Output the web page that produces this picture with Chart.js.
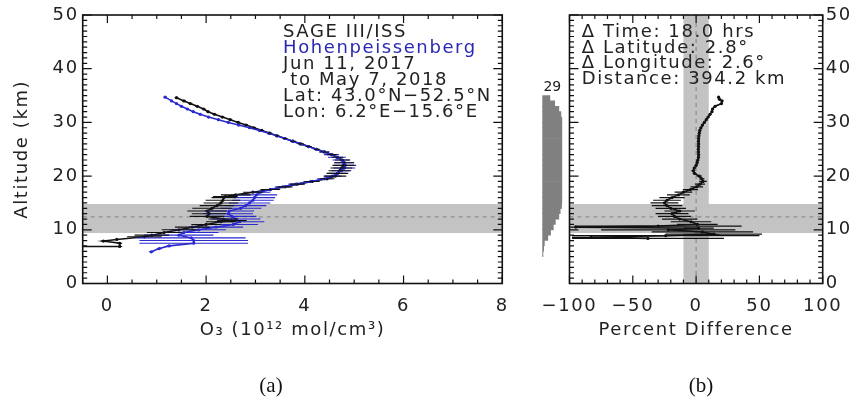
<!DOCTYPE html>
<html><head><meta charset="utf-8">
<script src="https://cdn.jsdelivr.net/npm/chart.js@4.4.1/dist/chart.umd.min.js"></script>
<style>
html,body{margin:0;padding:0;background:#fff;}
#wrap{position:relative;width:856px;height:401px;overflow:hidden;background:#fff;}
canvas{position:absolute;top:0;}
.cap{position:absolute;width:100px;text-align:center;font-family:"Liberation Serif",serif;font-size:21px;line-height:24px;color:#111;}
</style></head>
<body><div id="wrap">
<canvas id="cL" width="520" height="401" style="left:0"></canvas>
<canvas id="cH" width="40" height="401" style="left:530px"></canvas>
<canvas id="cR" width="336" height="401" style="left:520px"></canvas>
<div class="cap" style="left:221px;top:373px">(a)</div>
<div class="cap" style="left:651px;top:373px">(b)</div>
</div>
<script>
// ---------- data ----------
const sageAlt = [34.6,34.0,33.5,33.0,32.5,32.0,31.5,31.0,30.5,30.0,29.5,29.0,28.5,28.0,27.5,27.0,26.5,26.0,25.5,25.0,24.5,24.0,23.5,23.0,22.5,22.0,21.5,21.0,20.5,20.0,19.5,19.0,18.5,18.0,17.5,17.0,16.5,16.2,16.0,15.5,15.0,14.5,14.0,13.5,13.0,12.5,12.0,11.7,11.5,11.0,10.5,10.0,9.5,9.0,8.7,8.2,7.9,7.5,6.9,6.9];
const sageO3  = [1.40,1.55,1.68,1.82,1.95,2.04,2.17,2.33,2.49,2.65,2.81,2.97,3.13,3.29,3.44,3.60,3.76,3.92,4.08,4.24,4.40,4.55,4.66,4.76,4.80,4.78,4.74,4.70,4.66,4.62,4.45,4.15,3.85,3.60,3.30,2.95,2.60,2.39,2.36,2.34,2.30,2.22,2.12,2.02,2.06,2.02,2.35,2.52,2.30,2.00,1.72,1.45,1.15,0.90,0.75,0.19,-0.08,0.25,0.25,-0.60];
const sageErr = [0.04,0.04,0.04,0.04,0.04,0.04,0.04,0.04,0.04,0.04,0.04,0.04,0.04,0.04,0.04,0.04,0.06,0.06,0.06,0.06,0.10,0.10,0.12,0.15,0.20,0.22,0.22,0.22,0.22,0.22,0.15,0.15,0.15,0.15,0.20,0.20,0.30,0.25,0.25,0.35,0.35,0.35,0.40,0.40,0.35,0.35,0.30,0.30,0.30,0.30,0.35,0.35,0.35,0.35,0.35,0.05,0.05,0.05,0.05,0.05];

const sondeAlt = [34.7,34.0,33.5,33.0,32.5,32.0,31.5,31.0,30.5,30.0,29.5,29.0,28.5,28.0,27.5,27.0,26.5,26.0,25.5,25.0,24.5,24.0,23.5,23.0,22.5,22.0,21.5,21.0,20.5,20.0,19.5,19.0,18.5,18.0,17.5,17.0,16.5,16.0,15.5,15.0,14.5,14.0,13.5,13.0,12.5,12.0,11.5,11.0,10.5,10.0,9.5,9.0,8.5,8.0,7.5,7.0,6.5,5.9];
const sondeO3  = [1.17,1.30,1.40,1.50,1.62,1.74,1.88,2.05,2.25,2.45,2.66,2.88,3.08,3.27,3.43,3.59,3.75,3.91,4.07,4.23,4.39,4.54,4.65,4.74,4.79,4.82,4.80,4.74,4.66,4.56,4.40,4.12,3.82,3.55,3.30,3.10,3.02,2.98,2.95,2.88,2.80,2.70,2.47,2.45,2.52,2.60,2.68,2.55,2.20,1.85,1.55,1.45,1.70,1.75,1.75,1.25,1.05,0.89];
const sondeErr = [0.03,0.03,0.03,0.03,0.03,0.03,0.03,0.03,0.03,0.03,0.03,0.03,0.03,0.03,0.03,0.03,0.03,0.03,0.03,0.05,0.10,0.15,0.18,0.18,0.20,0.22,0.22,0.20,0.18,0.18,0.15,0.15,0.15,0.15,0.15,0.20,0.42,0.42,0.42,0.42,0.42,0.42,0.50,0.50,0.50,0.50,0.50,0.50,0.55,0.55,0.70,0.70,1.10,1.10,1.10,0.05,0.05,0.05];

const diffAlt = [34.7,34.3,34.0,33.5,33.0,32.5,32.0,31.5,31.0,30.5,30.0,29.5,29.0,28.5,28.0,27.5,27.0,26.5,26.0,25.5,25.0,24.5,24.0,23.5,23.0,22.5,22.0,21.5,21.0,20.5,20.0,19.5,19.0,18.5,18.0,17.5,17.0,16.5,16.0,15.5,15.0,14.5,14.0,13.5,13.0,12.5,12.0,11.5,11.0,10.7,10.5,10.3,10.0,9.6,9.2,8.9,8.6,8.4];
const diffPct = [17.8,18.5,20.5,20,15,13,12.5,11,9.5,8,6.5,5,3.8,3,2.5,2.2,2.0,1.8,2.0,1.9,1.7,1.8,2.0,1.9,1.4,0.8,0,-1.5,-2.2,-1.2,2.5,4.5,5.5,3,0.5,-4.5,-10,-14,-19,-23,-25,-23,-20,-13,-19,-17,-13,-4,1,-30,-95,2,-22,5,14,-24,-83,-38];
const diffErr = [1,1,1,1,1,1,1,1,1,1,1,1,1,1,1,1,1,1,1,1,1,1,1,1,1,1,1,1,1.5,1.5,2,2,3,4,5,6,7,9,10,11,11,12,12,12,13,13,14,16,16,66,5,12,53,40,38,74,15,60];

const histAlt   = [34.5,33.5,32.5,31.5,30.5,29.5,28.5,27.5,26.5,25.5,24.5,23.5,22.5,21.5,20.5,19.5,18.5,17.5,16.5,15.5,14.5,13.5,12.5,11.5,10.5,9.5,8.5,7.5,6.5,5.5];
const histCount = [11,18,24,27,29,29,29,29,29,29,29,29,29,29,29,29,29,29,29,29,28,26,24,19,16,12,8,3,2,1];

const o3Ticks = [0,2,4,6,8];
const altTicks = [0,10,20,30,40,50];
const pctTicks = [-100,-50,0,50,100];
const coincBand = [9.4,14.8];
const coincAlt = 12.4;
const pctBand = [-10,10];

const infoLeft = ['SAGE III/ISS','Hohenpeissenberg','Jun 11, 2017',' to May 7, 2018','Lat: 43.0°N\u221252.5°N','Lon: 6.2°E\u221215.6°E'];
const infoRight = ['\u0394 Time: 18.0 hrs','\u0394 Latitude: 2.8°','\u0394 Longitude: 2.6°','Distance: 394.2 km'];

// ---------- helpers ----------
function pts(xs, ys){ return xs.map((x,i)=>({x:x, y:ys[i]})); }
function errSegs(xs, ys, es){
  const out=[];
  xs.forEach((x,i)=>{ out.push({x:x-es[i],y:ys[i]},{x:x+es[i],y:ys[i]},{x:NaN,y:NaN}); });
  return out;
}
function fmt(v){ return v<0 ? '\u2212'+Math.abs(v) : String(v); }
function range(a,b,s){ const r=[]; for(let v=a; v<=b+1e-9; v+=s) r.push(+v.toFixed(4)); return r; }

Chart.defaults.font.family = 'DejaVu Sans';
Chart.defaults.font.size = 18;
Chart.defaults.color = '#222';

const spacing = {
  id:'spacing',
  beforeDraw(chart){ chart.ctx.letterSpacing = '1.6px'; }
};

const bands = {
  id:'bands',
  beforeDatasetsDraw(chart, args, o){
    const {ctx, chartArea:a, scales:{x,y}} = chart;
    ctx.save();
    ctx.fillStyle = '#c3c3c3';
    const y1 = y.getPixelForValue(o.h[1]), y0 = y.getPixelForValue(o.h[0]);
    ctx.fillRect(a.left, y1, a.right-a.left, y0-y1);
    if (o.v){
      const x0 = x.getPixelForValue(o.v[0]), x1 = x.getPixelForValue(o.v[1]);
      ctx.fillRect(x0, a.top, x1-x0, a.bottom-a.top);
    }
    ctx.strokeStyle = '#808080'; ctx.lineWidth = 1; ctx.setLineDash([4,4]);
    ctx.beginPath();
    const yl = y.getPixelForValue(o.hLine);
    ctx.moveTo(a.left, yl); ctx.lineTo(a.right, yl);
    if (o.vLine !== undefined){
      const xl = x.getPixelForValue(o.vLine);
      ctx.moveTo(xl, a.top); ctx.lineTo(xl, a.bottom);
    }
    ctx.stroke();
    ctx.restore();
  }
};

const boxTicks = {
  id:'boxTicks',
  afterDatasetsDraw(chart, args, o){
    const {ctx, chartArea:a, scales:{x,y}} = chart;
    ctx.save();
    ctx.strokeStyle = '#111'; ctx.lineWidth = 1.2;
    ctx.beginPath();
    const vx=(list,len)=>list.forEach(v=>{ const p=x.getPixelForValue(v);
      ctx.moveTo(p,a.bottom); ctx.lineTo(p,a.bottom-len); ctx.moveTo(p,a.top); ctx.lineTo(p,a.top+len); });
    const vy=(list,len)=>list.forEach(v=>{ const p=y.getPixelForValue(v);
      ctx.moveTo(a.left,p); ctx.lineTo(a.left+len,p); ctx.moveTo(a.right,p); ctx.lineTo(a.right-len,p); });
    vx(o.xMinor,4); vx(o.xMajor,8); vy(o.yMinor,4.5); vy(o.yMajor,9);
    ctx.stroke();
    ctx.lineWidth = 1.6;
    ctx.strokeRect(a.left, a.top, a.right-a.left, a.bottom-a.top);
    ctx.restore();
  }
};

const texts = {
  id:'texts',
  afterDraw(chart, args, o){
    const ctx = chart.ctx;
    ctx.save();
    ctx.font = '18px "DejaVu Sans"';
    ctx.textAlign = 'left'; ctx.textBaseline = 'alphabetic';
    o.lines.forEach((t,i)=>{
      ctx.fillStyle = (o.colors && o.colors[i]) || '#222';
      ctx.fillText(t, o.x, o.y0 + i*o.dy);
    });
    ctx.restore();
  }
};

function axisX(ticks, min, max, title){
  return {
    type:'linear', min:min, max:max, position:'bottom',
    afterBuildTicks:(s)=>{ s.ticks = ticks.map(v=>({value:v})); },
    afterFit:(s)=>{ s.height = 117.5; },
    grid:{display:false, drawTicks:false}, border:{display:false},
    ticks:{padding:12, color:'#222', callback:(v)=>fmt(v), autoSkip:false, maxRotation:0, font:{size:18, lineHeight:1.2}},
    title:{display:true, text:title, color:'#222', font:{size:18, lineHeight:1.2}, padding:{top:0, bottom:60}}
  };
}

// ---------- left panel ----------
new Chart(document.getElementById('cL'), {
  type:'scatter',
  data:{datasets:[
    {data:errSegs(sageO3, sageAlt, sageErr), showLine:true, borderColor:'#111', borderWidth:1.1, pointRadius:0, spanGaps:false},
    {data:errSegs(sondeO3, sondeAlt, sondeErr), showLine:true, borderColor:'#2a2ad0', borderWidth:1.1, pointRadius:0, spanGaps:false},
    {data:pts(sondeO3, sondeAlt), showLine:true, borderColor:'#2a2ad0', borderWidth:1.6, pointRadius:1.6, pointBackgroundColor:'#2a2ad0', pointBorderWidth:0},
    {data:pts(sageO3, sageAlt), showLine:true, borderColor:'#111', borderWidth:1.6, pointRadius:1.6, pointBackgroundColor:'#111', pointBorderWidth:0}
  ]},
  options:{
    responsive:false, animation:false, devicePixelRatio:1,
    layout:{padding:{left:0, top:15, right:12.7, bottom:0}},
    plugins:{legend:{display:false}, tooltip:{enabled:false},
      bands:{h:coincBand, hLine:coincAlt},
      boxTicks:{xMajor:o3Ticks, xMinor:range(-0.5,8,0.5), yMajor:altTicks, yMinor:range(0,50,1)},
      texts:{lines:infoLeft, colors:['#222','#2a2ab0'], x:283, y0:36.7, dy:16.1}
    },
    scales:{
      x: axisX(o3Ticks, -0.5, 8, 'O\u2083 (10\u00B9\u00B2 mol/cm\u00B3)'),
      y:{type:'linear', min:0, max:50, position:'left',
        afterBuildTicks:(s)=>{ s.ticks = altTicks.map(v=>({value:v})); },
        afterFit:(s)=>{ s.width = 82.7; },
        grid:{display:false, drawTicks:false}, border:{display:false},
        ticks:{padding:4, color:'#222', callback:(v)=>fmt(v), font:{size:18, lineHeight:1.2}},
        title:{display:true, text:'Altitude (km)', color:'#222', font:{size:18, lineHeight:1.2}, padding:{top:12, bottom:0}}
      }
    }
  },
  plugins:[spacing, bands, boxTicks, texts]
});

// ---------- histogram ----------
const histLabel = {
  id:'histLabel',
  afterDraw(chart){
    const {ctx, chartArea:a, scales:{y}} = chart;
    ctx.save();
    ctx.font = '14px "DejaVu Sans"'; ctx.fillStyle = '#222';
    ctx.textAlign = 'center'; ctx.textBaseline = 'middle';
    ctx.fillText(String(Math.max(...histCount)), (a.left+a.right)/2, y.getPixelForValue(35) - 8);
    ctx.restore();
  }
};
new Chart(document.getElementById('cH'), {
  type:'bar',
  data:{datasets:[{data:pts(histCount, histAlt), backgroundColor:'#808080', borderWidth:0, barPercentage:1, categoryPercentage:1}]},
  options:{
    indexAxis:'y', responsive:false, animation:false, devicePixelRatio:1,
    layout:{padding:{left:12.3, right:7.7, top:15, bottom:117.5}},
    plugins:{legend:{display:false}, tooltip:{enabled:false}},
    scales:{
      x:{type:'linear', min:0, max:Math.max(...histCount), display:false},
      y:{type:'linear', min:0, max:50, offset:false, display:false}
    }
  },
  plugins:[histLabel]
});

// ---------- right panel ----------
new Chart(document.getElementById('cR'), {
  type:'scatter',
  data:{datasets:[
    {data:errSegs(diffPct, diffAlt, diffErr), showLine:true, borderColor:'#111', borderWidth:1.2, pointRadius:0, spanGaps:false},
    {data:pts(diffPct, diffAlt), showLine:true, borderColor:'#111', borderWidth:1.6, pointRadius:1.6, pointBackgroundColor:'#111', pointBorderWidth:0}
  ]},
  options:{
    responsive:false, animation:false, devicePixelRatio:1,
    layout:{padding:{left:49.5, top:15, right:0, bottom:0}},
    plugins:{legend:{display:false}, tooltip:{enabled:false},
      bands:{h:coincBand, hLine:coincAlt, v:pctBand, vLine:0},
      boxTicks:{xMajor:pctTicks, xMinor:range(-100,100,10), yMajor:altTicks, yMinor:range(0,50,1)},
      texts:{lines:infoRight, x:61.7, y0:36.7, dy:15.8}
    },
    scales:{
      x: axisX(pctTicks, -100, 100, 'Percent Difference'),
      y:{type:'linear', min:0, max:50, position:'right',
        afterBuildTicks:(s)=>{ s.ticks = altTicks.map(v=>({value:v})); },
        afterFit:(s)=>{ s.width = 33.3; },
        grid:{display:false, drawTicks:false}, border:{display:false},
        ticks:{padding:3, color:'#222', callback:(v)=>fmt(v), font:{size:18, lineHeight:1.2}}
      }
    }
  },
  plugins:[spacing, bands, boxTicks, texts]
});
</script>
</body></html>
